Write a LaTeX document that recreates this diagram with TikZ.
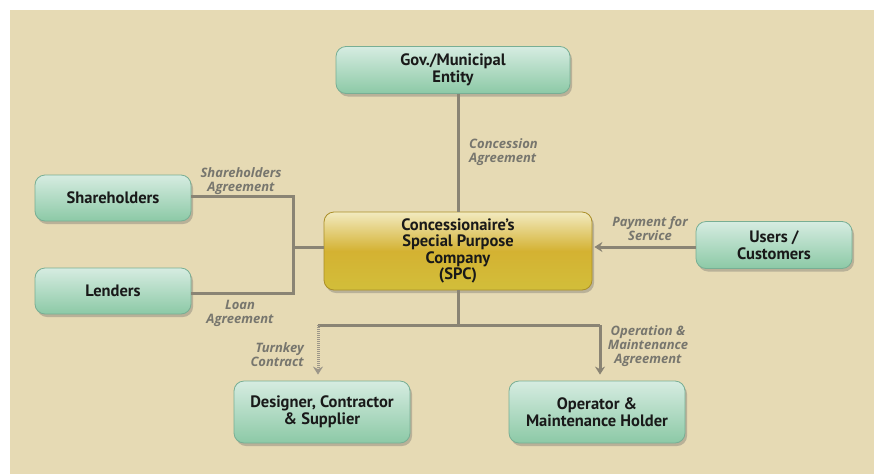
\documentclass[tikz,border=0pt]{standalone}
\usepackage{fontspec}
\setmainfont{PT Sans}
\newfontfamily\labfont{Open Sans}
\usetikzlibrary{shadows,arrows.meta}
\definecolor{bg}{HTML}{E6DAB4}
\definecolor{linec}{HTML}{8A8474}
\definecolor{labc}{HTML}{77766E}
\definecolor{gtop}{HTML}{D6ECE1}
\definecolor{gbot}{HTML}{8CC9A6}
\definecolor{gbord}{HTML}{78AE94}
\definecolor{ytop}{HTML}{F2EAC0}
\definecolor{ymid}{HTML}{D4B232}
\definecolor{ybot}{HTML}{D2BE3A}
\tikzset{
  gbox/.style={draw=gbord, line width=0.8pt, rounded corners=10pt, top color=gtop, bottom color=gbot,
    drop shadow={shadow xshift=2pt, shadow yshift=-3pt, opacity=0.35, fill=black!60},
    align=center, font=\fontsize{16.5}{16.5}\selectfont\bfseries, text=black!90, inner sep=2pt},
  ybox/.style={draw=ymid!80!black, line width=0.8pt, rounded corners=10pt, top color=ytop, bottom color=ybot, middle color=ymid,
    drop shadow={shadow xshift=2pt, shadow yshift=-3pt, opacity=0.35, fill=black!60},
    align=center, font=\fontsize{16.5}{16.5}\selectfont\bfseries, text=black!90, inner sep=2pt},
  conn/.style={draw=linec, line width=3pt},
  tip/.style={-{Stealth[length=8pt,width=10pt]}},
  lab/.style={font=\labfont\fontsize{13}{14}\selectfont\bfseries\itshape, text=labc, inner sep=0pt}
}
\begin{document}
\begin{tikzpicture}[x=1pt,y=-1pt]
\useasboundingbox (0,0) rectangle (874,474);
\fill[white] (0,0) rectangle (874,474);
\fill[bg] (10,10) rectangle (874,474);

\node[gbox, minimum width=234pt, minimum height=47pt] (gov) at (453,70) {Gov./Municipal\\Entity};
\node[ybox, minimum width=268pt, minimum height=78pt] (spc) at (458,251) {Concessionaire's\\Special Purpose\\Company\\(SPC)};
\node[gbox, minimum width=156pt, minimum height=46pt] (sh) at (113,198) {Shareholders};
\node[gbox, minimum width=156pt, minimum height=46pt] (lend) at (113,291) {Lenders};
\node[gbox, minimum width=156pt, minimum height=47pt] (users) at (774,245) {Users /\\Customers};
\node[gbox, minimum width=176pt, minimum height=62pt] (des) at (322,412) {Designer, Contractor\\\& Supplier};
\node[gbox, minimum width=176pt, minimum height=62pt] (op) at (597,412) {Operator \&\\Maintenance Holder};

\coordinate (j) at (293,247);
\coordinate (b) at (458,325);
\coordinate (bl) at (318,325);
\coordinate (br) at (600,325);

\draw[conn] (spc.north |- gov.south) -- (spc.north);
\draw[conn] (sh.east |- 0,196) -| (j) |- (lend.east |- 0,293);
\draw[conn] (j) -- (spc.west |- j);
\draw[conn, tip, shorten >=2pt] (users.west |- j) -- (spc.east |- j);
\draw[conn] (spc.south -| b) -- (b);
\draw[conn] (bl) -- (br);
\draw[conn, draw=linec!85, tip, dash pattern=on 1pt off 1pt, shorten >=6pt] (bl) -- (bl |- des.north);
\draw[conn, tip, shorten >=6pt] (br) -- (br |- op.north);

\node[lab, align=left, anchor=west] (l1) at (469,152) {Concession\\Agreement};
\node[lab, align=center] (l2) at (241,181) {Shareholders\\Agreement};
\node[lab, align=center] (l3) at (240,313) {Loan\\Agreement};
\node[lab, align=center] (l4) at (650,229) {Payment for\\Service};
\node[lab, align=right, anchor=east] (l5) at (304,355) {Turnkey\\Contract};
\node[lab, align=center] (l6) at (648,346) {Operation \&\\Maintenance\\Agreement};
\end{tikzpicture}
\end{document}
